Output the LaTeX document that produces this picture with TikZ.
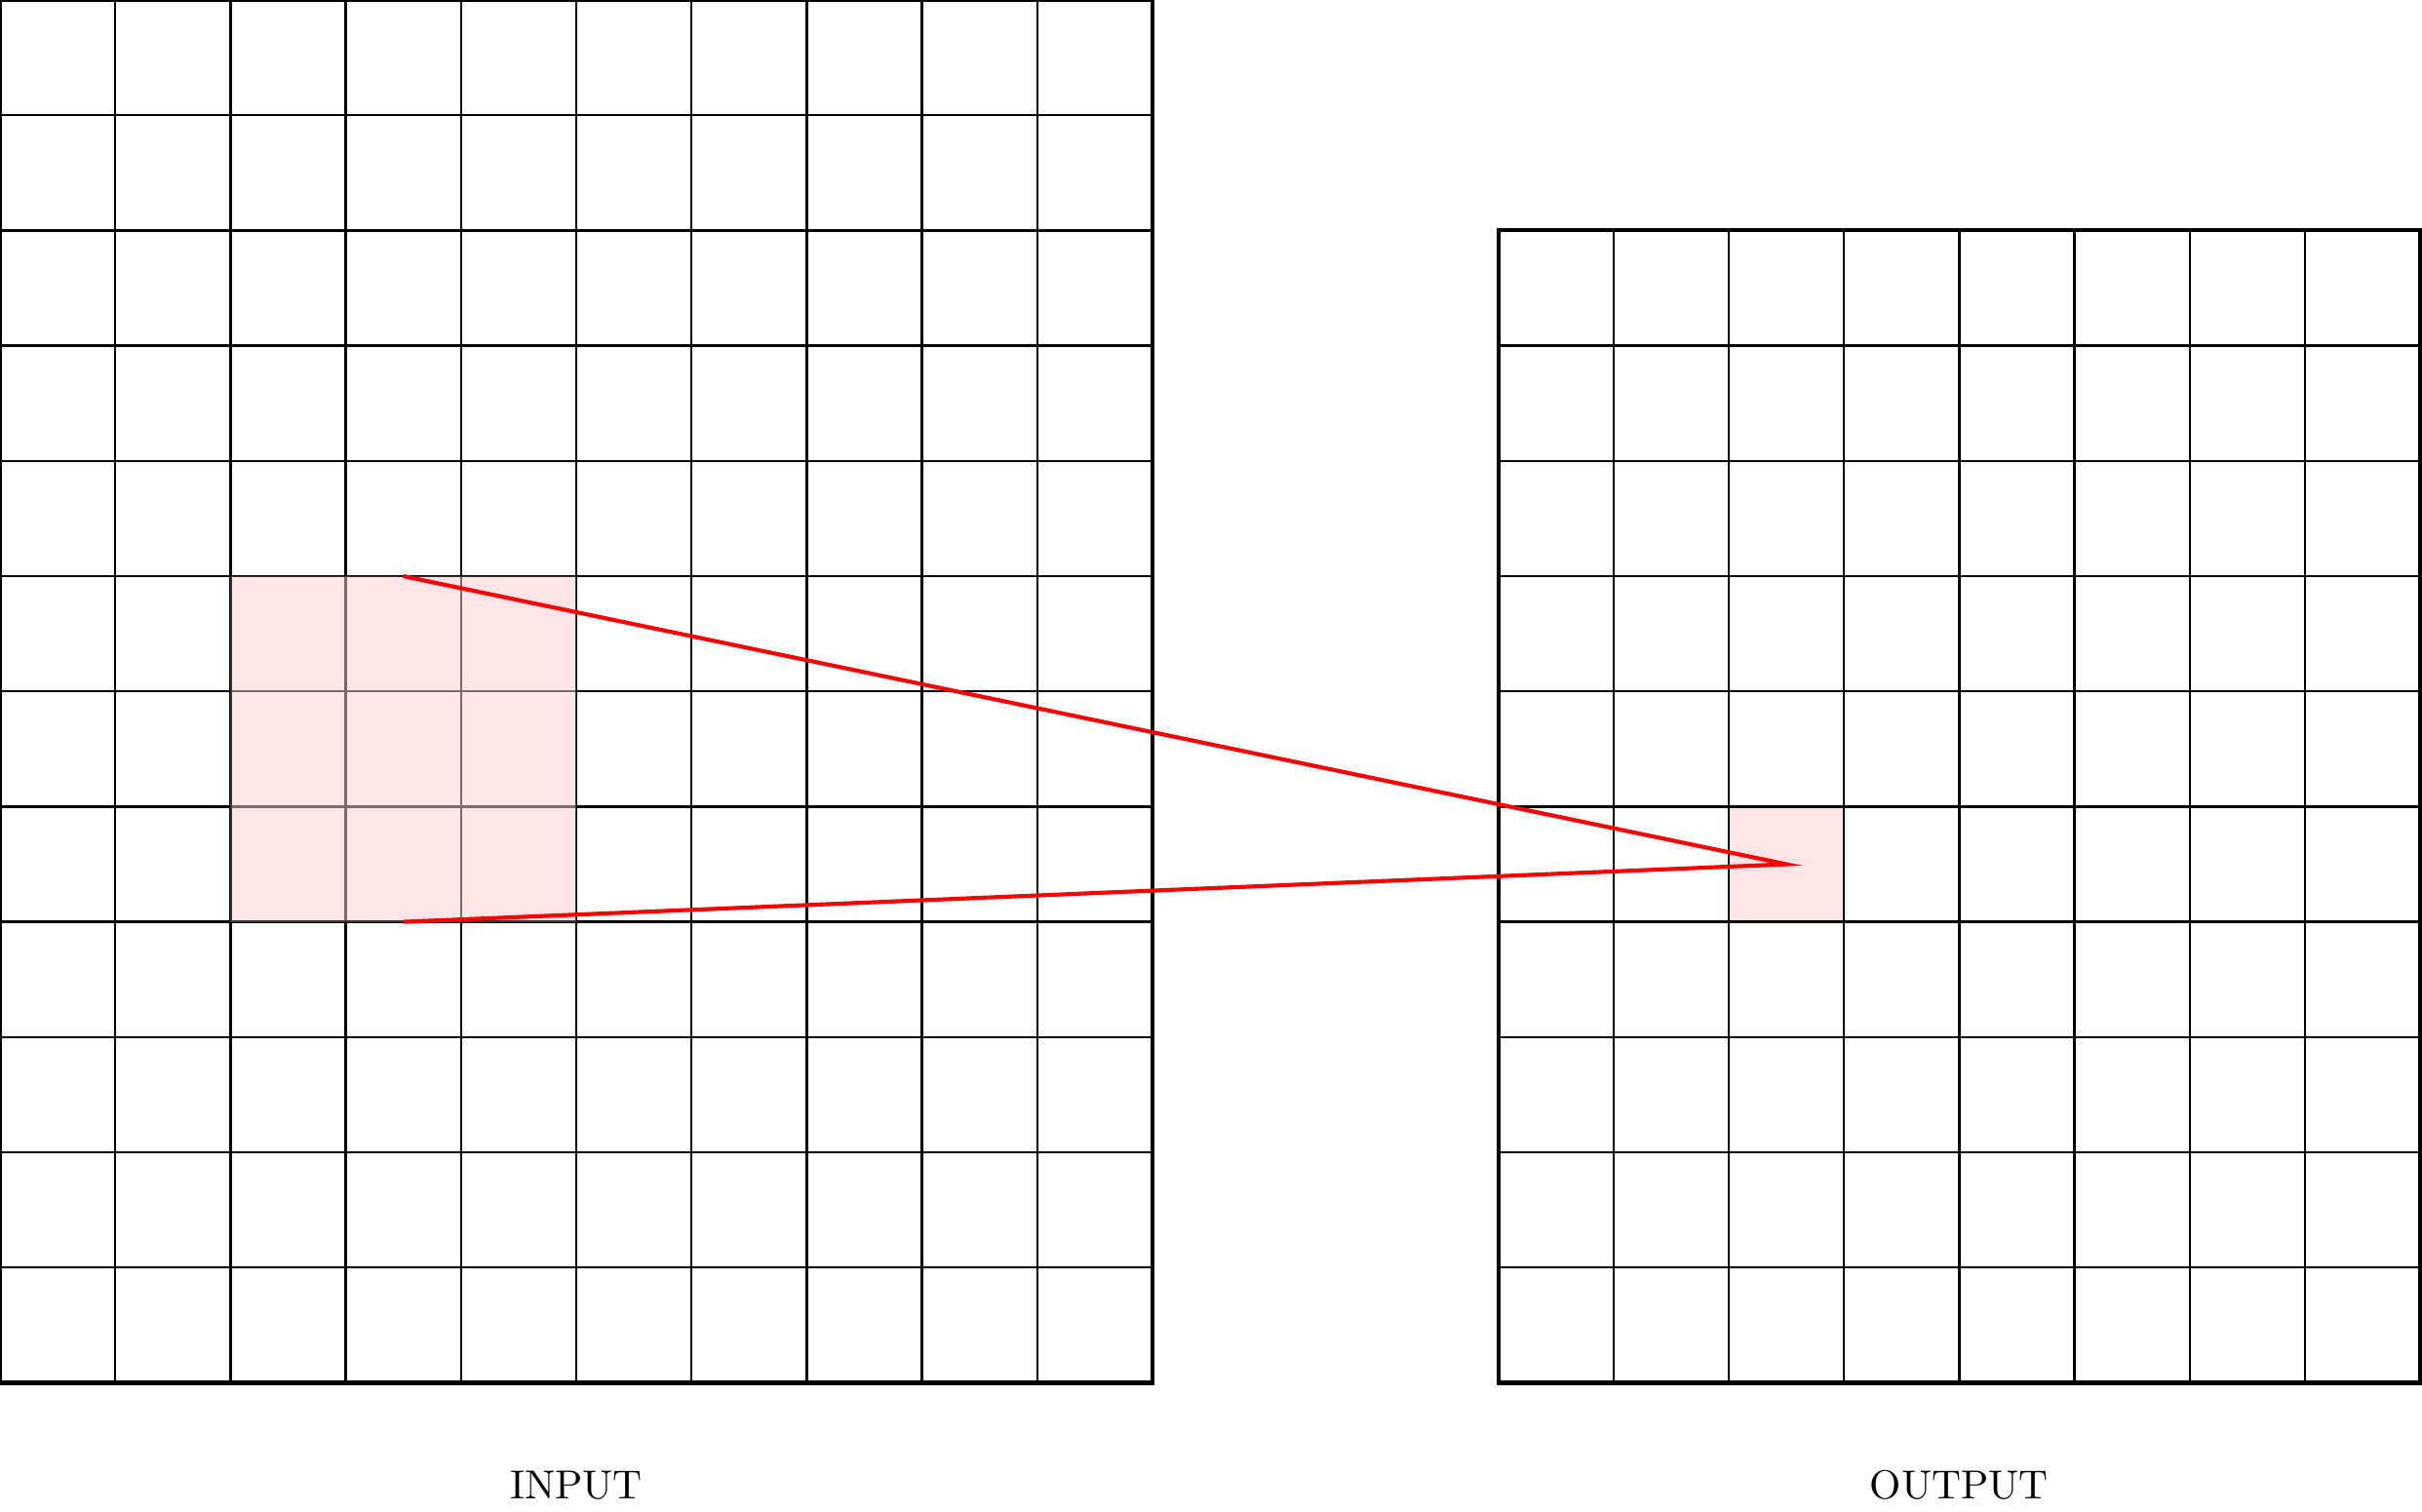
\documentclass[tikz,border=0pt]{standalone}
\begin{document}
\begin{tikzpicture}[x=1cm,y=1cm,
  gridline/.style={line width=0.6pt,black},
  border/.style={line width=1pt,black},
  patch/.style={fill=red!20,draw=black,line width=0.6pt,opacity=0.5},
  cellfill/.style={fill=red!10},
  link/.style={red,line width=1pt},
  label/.style={font=\normalsize}]
\useasboundingbox (0,-1.12) rectangle (21.015,12);
% output highlighted cell (under grid)
\fill[cellfill] (15,4) rectangle (16,5);
% input grid
\draw[gridline] (0,0) grid (10,12);
\draw[border] (0,0) rectangle (10,12);
% output grid
\draw[gridline] (13,0) grid (21,10);
\draw[border] (13,0) rectangle (21,10);
% input patch (over grid)
\path[patch] (2,4) rectangle (5,7);
% connectors
\coordinate (pt) at (3.5,7);
\coordinate (pb) at (3.5,4);
\coordinate (tip) at (15.5,4.5);
\draw[link] (pt) -- (tip) -- (pb);
% labels
\node[label] (inlab) at (5,-0.89) {INPUT};
\node[label] (outlab) at (17,-0.89) {OUTPUT};
\end{tikzpicture}
\end{document}
